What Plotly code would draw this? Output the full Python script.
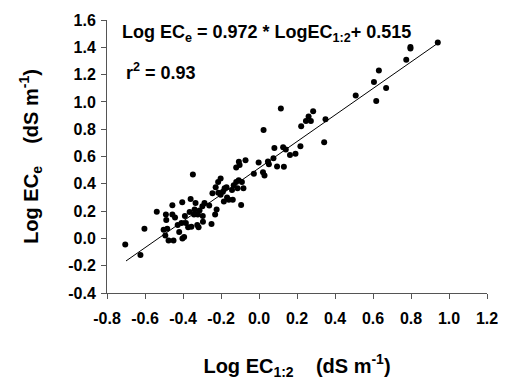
import plotly.graph_objects as go

log_ec12 = [-0.704, -0.624, -0.603, -0.538, -0.49, -0.488, -0.456, -0.456, -0.502, -0.483,
            -0.493, -0.476, -0.45, -0.442, -0.428, -0.42, -0.403, -0.394, -0.404, -0.408,
            -0.39, -0.385, -0.373, -0.365, -0.36, -0.348, -0.356, -0.339, -0.334, -0.342,
            -0.325, -0.318, -0.322, -0.313, -0.298, -0.296, -0.295, -0.287, -0.262, -0.25,
            -0.231, -0.223, -0.245, -0.228, -0.215, -0.202, -0.214, -0.202, -0.19, -0.181,
            -0.171, -0.185, -0.168, -0.159, -0.142, -0.138, -0.133, -0.12, -0.113, -0.107,
            -0.09, -0.094, -0.082, -0.12, -0.106, -0.102, -0.071, -0.027, -0.002, 0.024,
            0.021, 0.029, 0.047, 0.052, 0.076, 0.081, 0.095, 0.115, 0.131, 0.127,
            0.141, 0.163, 0.192, 0.218, 0.222, 0.247, 0.261, 0.273, 0.285, 0.343,
            0.35, 0.509, 0.617, 0.605, 0.631, 0.669, 0.775, 0.797, 0.797, 0.941]
log_ece = [-0.044, -0.122, 0.07, 0.196, 0.176, 0.134, 0.243, 0.176, 0.063, 0.07,
           0.022, -0.016, -0.016, 0.153, 0.098, 0.046, -0.001, 0.011, 0.264, 0.112,
           0.164, 0.112, 0.082, 0.193, 0.288, 0.468, 0.086, 0.212, 0.26, 0.176,
           0.098, 0.082, 0.176, 0.205, 0.236, 0.164, 0.122, 0.26, 0.241, 0.105,
           0.176, 0.212, 0.331, 0.374, 0.414, 0.438, 0.335, 0.319, 0.342, 0.367,
           0.374, 0.271, 0.3, 0.283, 0.354, 0.283, 0.39, 0.414, 0.367, 0.426,
           0.414, 0.245, 0.367, 0.52, 0.561, 0.537, 0.573, 0.473, 0.556, 0.794,
           0.485, 0.461, 0.563, 0.544, 0.587, 0.663, 0.527, 0.952, 0.525, 0.668,
           0.651, 0.611, 0.62, 0.675, 0.822, 0.86, 0.893, 0.86, 0.931, 0.705,
           0.872, 1.047, 1.007, 1.145, 1.23, 1.102, 1.308, 1.403, 1.391, 1.436]

slope = 0.972
intercept = 0.515
fit_x = [-0.70, 0.94]
fit_y = [slope * v + intercept for v in fit_x]

x_ticks = [-0.8, -0.6, -0.4, -0.2, 0.0, 0.2, 0.4, 0.6, 0.8, 1.0, 1.2]
y_ticks = [-0.4, -0.2, 0.0, 0.2, 0.4, 0.6, 0.8, 1.0, 1.2, 1.4, 1.6]

FONT = "Arial, Liberation Sans, sans-serif"

fig = go.Figure()
fig.add_trace(go.Scatter(x=log_ec12, y=log_ece, mode="markers",
                         marker=dict(color="black", size=6), showlegend=False))
fig.add_trace(go.Scatter(x=fit_x, y=fit_y, mode="lines",
                         line=dict(color="black", width=1), showlegend=False))

axis_common = dict(showgrid=False, zeroline=False, showline=True, linecolor="#555555",
                   linewidth=1, ticks="outside", ticklen=5, tickcolor="#555555",
                   tickfont=dict(family=FONT, size=16, color="black", weight="bold"))

fig.update_layout(
    width=510, height=385,
    margin=dict(l=107, r=14, t=15, b=89),
    paper_bgcolor="white", plot_bgcolor="white",
    xaxis=dict(range=[-0.8, 1.2], tickvals=x_ticks,
               ticktext=[f"{v:.1f}" for v in x_ticks], ticklabelstandoff=6,
               title=dict(text="Log EC<sub>1:2</sub>    (dS m<sup>-1</sup>)", standoff=32,
                          font=dict(family=FONT, size=20, color="black", weight="bold")),
               **axis_common),
    yaxis=dict(range=[-0.4, 1.6], tickvals=y_ticks,
               ticktext=[f"{v:.1f}" for v in y_ticks], ticklabelstandoff=2,
               title=dict(text="Log EC<sub>e</sub>    (dS m<sup>-1</sup>)", standoff=24,
                          font=dict(family=FONT, size=20, color="black", weight="bold")),
               **axis_common),
)
fig.add_annotation(x=0.033, y=0.95, xref="paper", yref="paper", xanchor="left", yanchor="middle",
                   text="Log EC<sub>e</sub> = 0.972 * LogEC<sub>1:2</sub>+ 0.515", showarrow=False,
                   font=dict(family=FONT, size=18, color="black", weight="bold"))
fig.add_annotation(x=0.045, y=0.81, xref="paper", yref="paper", xanchor="left", yanchor="middle",
                   text="r<sup>2</sup> = 0.93", showarrow=False,
                   font=dict(family=FONT, size=18, color="black", weight="bold"))

fig.write_html("out.html")
